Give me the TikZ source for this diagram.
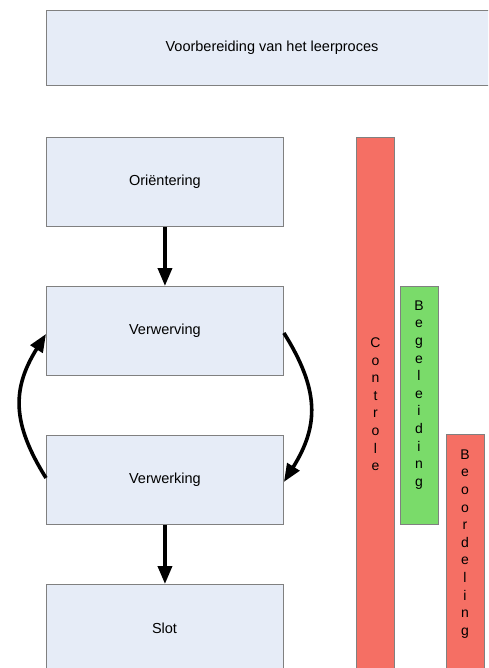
\documentclass[tikz,border=0pt]{standalone}
\usepackage{fontspec}
\setmainfont{Liberation Sans}
\usetikzlibrary{arrows.meta}
\definecolor{boxblue}{RGB}{230,236,247}
\definecolor{boxgray}{RGB}{128,128,128}
\definecolor{barred}{RGB}{245,111,100}
\definecolor{bargreen}{RGB}{122,219,106}
\begin{document}
\begin{tikzpicture}[x=1pt,y=-1pt,
  stagebox/.style={draw=boxgray,fill=boxblue,line width=0.9pt,minimum width=237pt,minimum height=89pt,anchor=north west,inner sep=0pt,font=\fontsize{14.5}{17}\selectfont},
  barbox/.style={draw=boxgray,line width=0.9pt,minimum width=38pt,anchor=north west,inner sep=0pt},
  bartext/.style={align=center,font=\fontsize{14}{17.6}\selectfont,anchor=north,inner sep=0pt},
  flow/.style={line width=3.6pt,-{Triangle[length=18pt,width=14pt]}}]
\useasboundingbox (0,0) rectangle (488,668);
\clip (0,0) rectangle (488,668);
\node[stagebox,minimum width=460pt,minimum height=75pt] (prep) at (46,10) {};
\node at (272,47.5) {\fontsize{14.5}{17}\selectfont Voorbereiding van het leerproces};
\node[stagebox] (ori) at (46,137) {Oriëntering};
\node[stagebox] (verw) at (46,286) {Verwerving};
\node[stagebox] (verk) at (46,435) {Verwerking};
\node[stagebox,minimum height=100pt] (slot) at (46,584) {};
\node at (164.5,628.5) {\fontsize{14.5}{17}\selectfont Slot};
\node[barbox,fill=barred,minimum height=560pt] (ctrl) at (356,137) {};
\node[barbox,fill=bargreen,minimum height=238pt] (beg) at (400,286) {};
\node[barbox,fill=barred,minimum height=260pt] (beo) at (446,434) {};
\node[bartext] (ctrltxt) at (375.5,337.5) {C\\o\\n\\t\\r\\o\\l\\e};
\node[bartext] (begtxt) at (419,300.5) {B\\e\\g\\e\\l\\e\\i\\d\\i\\n\\g};
\node[bartext] (beotxt) at (465,449.5) {B\\e\\o\\o\\r\\d\\e\\l\\i\\n\\g};
\draw[flow] (ori.south) -- (verw.north);
\draw[flow] (verk.south) -- (slot.north);
\draw[flow] ([yshift=-2pt]verw.east) to[out=-58,in=58,looseness=1.15] ([yshift=-2pt]verk.east);
\draw[flow] ([yshift=2pt]verk.west) to[out=122,in=-122,looseness=1.15] ([yshift=-3pt]verw.west);
\end{tikzpicture}
\end{document}
